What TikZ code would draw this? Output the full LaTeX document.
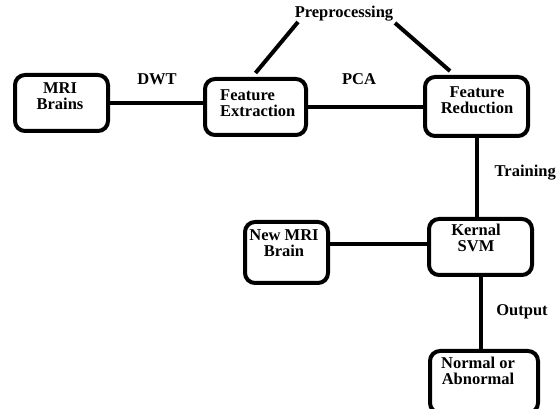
\documentclass[tikz,border=0pt]{standalone}
\usepackage{fontspec}
\setmainfont{Liberation Serif}
\usepackage{tikz}
\usetikzlibrary{calc, positioning}

\begin{document}
\begin{tikzpicture}[x=1pt, y=-1pt,
    stage/.style={draw, line width=4pt, rounded corners=10pt, inner sep=0pt},
    txt/.style={font=\fontsize{16.5}{16}\selectfont\bfseries, inner sep=0pt, align=center},
    link/.style={line width=4pt}]

    \useasboundingbox (0,0) rectangle (558,409);
    \clip (0,0) rectangle (558,409);

    % boxes
    \node[stage, minimum width=93pt, minimum height=56pt] (mri) at (61.5,103) {};
    \node[stage, minimum width=101pt, minimum height=56pt] (fe) at (255.5,107) {};
    \node[stage, minimum width=103pt, minimum height=59pt] (fr) at (476.5,106.5) {};
    \node[stage, minimum width=103pt, minimum height=56pt] (svm) at (480.5,247) {};
    \node[stage, minimum width=83pt, minimum height=61pt] (newmri) at (286.5,252.5) {};
    \node[stage, minimum width=108pt, minimum height=62pt] (res) at (484,382) {};

    % box texts
    \node[txt] (mritxt) at (60,96) {MRI\\Brains};
    \node[txt, align=left, anchor=west] (fetxt) at (220,103) {Feature\\Extraction};
    \node[txt] (frtxt) at (477,100) {Feature\\Reduction};
    \node[txt] (svmtxt) at (476,238) {Kernal\\SVM};
    \node[txt] (newtxt) at (284,243) {New MRI\\Brain};
    \node[txt] (restxt) at (478,371) {Normal or\\Abnormal};

    % edge labels
    \node[txt] (prep) at (344,14) {Preprocessing};
    \node[txt] (dwt) at (157,79) {DWT};
    \node[txt] (pca) at (359,79) {PCA};
    \node[txt, anchor=east] (train) at (556,173) {Training};
    \node[txt] (outp) at (522,312) {Output};

    \coordinate (pl) at (298,22);
    \coordinate (pr) at (395,23);
    \coordinate (nm) at ($(newmri.east)+(0,-8)$);

    % connectors
    \draw[link] (mri.east) -- (mri.east -| fe.west);
    \draw[link] (fe.east) -- (fe.east -| fr.west);
    \draw[link] (pl) -- ($(fe.north)+(0,-4)$);
    \draw[link] (pr) -- ($(fr.north)+(-26.5,-4)$);
    \draw[link] (fr.south) -- (fr.south |- svm.north);
    \draw[link] (nm) -- (nm -| svm.west);
    \draw[link] (svm.south) -- (svm.south |- res.north);

\end{tikzpicture}
\end{document}
